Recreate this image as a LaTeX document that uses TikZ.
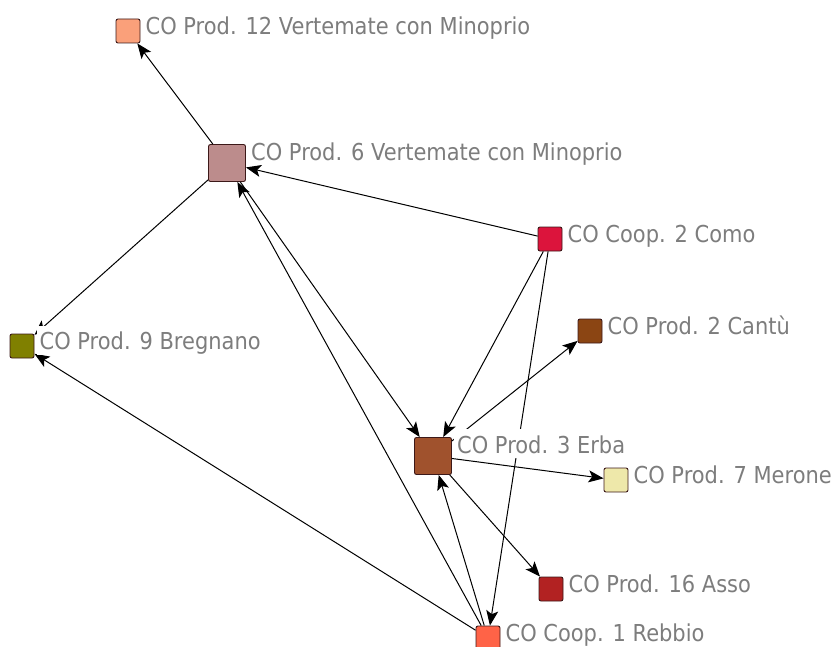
\documentclass[tikz,border=0pt]{standalone}
\usepackage{fontspec}
\usepackage{xcolor}
\usetikzlibrary{arrows.meta,calc}
\newfontfamily\lblfont{DejaVu Sans}[FakeStretch=0.9]
\definecolor{txtgray}{RGB}{125,125,125}
\definecolor{rimcol}{RGB}{60,25,25}
\definecolor{cpXII}{RGB}{250,160,122}
\definecolor{cpVI}{RGB}{188,140,140}
\definecolor{ccII}{RGB}{220,20,60}
\definecolor{cpII}{RGB}{139,69,19}
\definecolor{cpIX}{RGB}{128,128,0}
\definecolor{cpIII}{RGB}{160,82,45}
\definecolor{cpVII}{RGB}{238,232,170}
\definecolor{cpXVI}{RGB}{178,34,34}
\definecolor{ccI}{RGB}{255,99,71}
\tikzset{>={Stealth[length=15pt,width=12pt,inset=3.5pt]}}
\tikzset{
	actor/.style={draw=rimcol, line width=0.9pt, rounded corners=2pt, minimum size=24pt, inner sep=0pt},
	bigactor/.style={actor, minimum size=37pt},
	tag/.style={anchor=base west, fill=white, inner xsep=3pt, inner ysep=0pt, text height=24pt, text depth=5pt, text=txtgray, font=\lblfont\fontsize{23.3}{28}\selectfont},
	tie/.style={->, line width=1pt}
}

\begin{document}
\begin{tikzpicture}[x=1pt,y=-1pt]
		\useasboundingbox (0,0) rectangle (837,647);
		% stations
		\node[actor, fill=cpXII] (p12) at (128,31) {};
		\node[bigactor, fill=cpVI] (p6) at (227,163) {};
		\node[actor, fill=ccII] (c2) at (550,239) {};
		\node[actor, fill=cpII] (p2) at (590,331) {};
		\node[actor, fill=cpIX] (p9) at (22,346) {};
		\node[bigactor, fill=cpIII] (p3) at (433,456) {};
		\node[actor, fill=cpVII] (p7) at (616,480) {};
		\node[actor, fill=cpXVI] (p16) at (551,589) {};
		\node[actor, fill=ccI] (c1) at (488,638) {};
		% links
		\draw[tie] (p6) -- (p12);
		\draw[tie] (c2) -- (p6);
		\draw[tie] (p6) -- (p9);
		\draw[tie] (c1) -- (p9);
		\draw[tie] (c1) -- (p6);
		\draw[tie] (p6) -- (p3);
		\draw[tie] (c2) -- (p3);
		\draw[tie] (c2) -- (c1);
		\draw[tie] (c1) -- (p3);
		\draw[tie] (p3) -- (p2);
		\draw[tie] (p3) -- (p7);
		\draw[tie] (p3) -- (p16);
		% names
		\node[tag] (p12t) at ($(p12.north east)+(2,16)$) {CO Prod. 12 Vertemate con Minoprio};
		\node[tag] (p6t) at ($(p6.north east)+(2,16)$) {CO Prod. 6 Vertemate con Minoprio};
		\node[tag] (c2t) at ($(c2.north east)+(2,16)$) {CO Coop. 2 Como};
		\node[tag] (p2t) at ($(p2.north east)+(2,16)$) {CO Prod. 2 Cantù};
		\node[tag] (p9t) at ($(p9.north east)+(2,16)$) {CO Prod. 9 Bregnano};
		\node[tag] (p3t) at ($(p3.north east)+(2,16)$) {CO Prod. 3 Erba};
		\node[tag] (p7t) at ($(p7.north east)+(2,16)$) {CO Prod. 7 Merone};
		\node[tag] (p16t) at ($(p16.north east)+(2,16)$) {CO Prod. 16 Asso};
		\node[tag] (c1t) at ($(c1.north east)+(2,16)$) {CO Coop. 1 Rebbio};
	\end{tikzpicture}
\end{document}
